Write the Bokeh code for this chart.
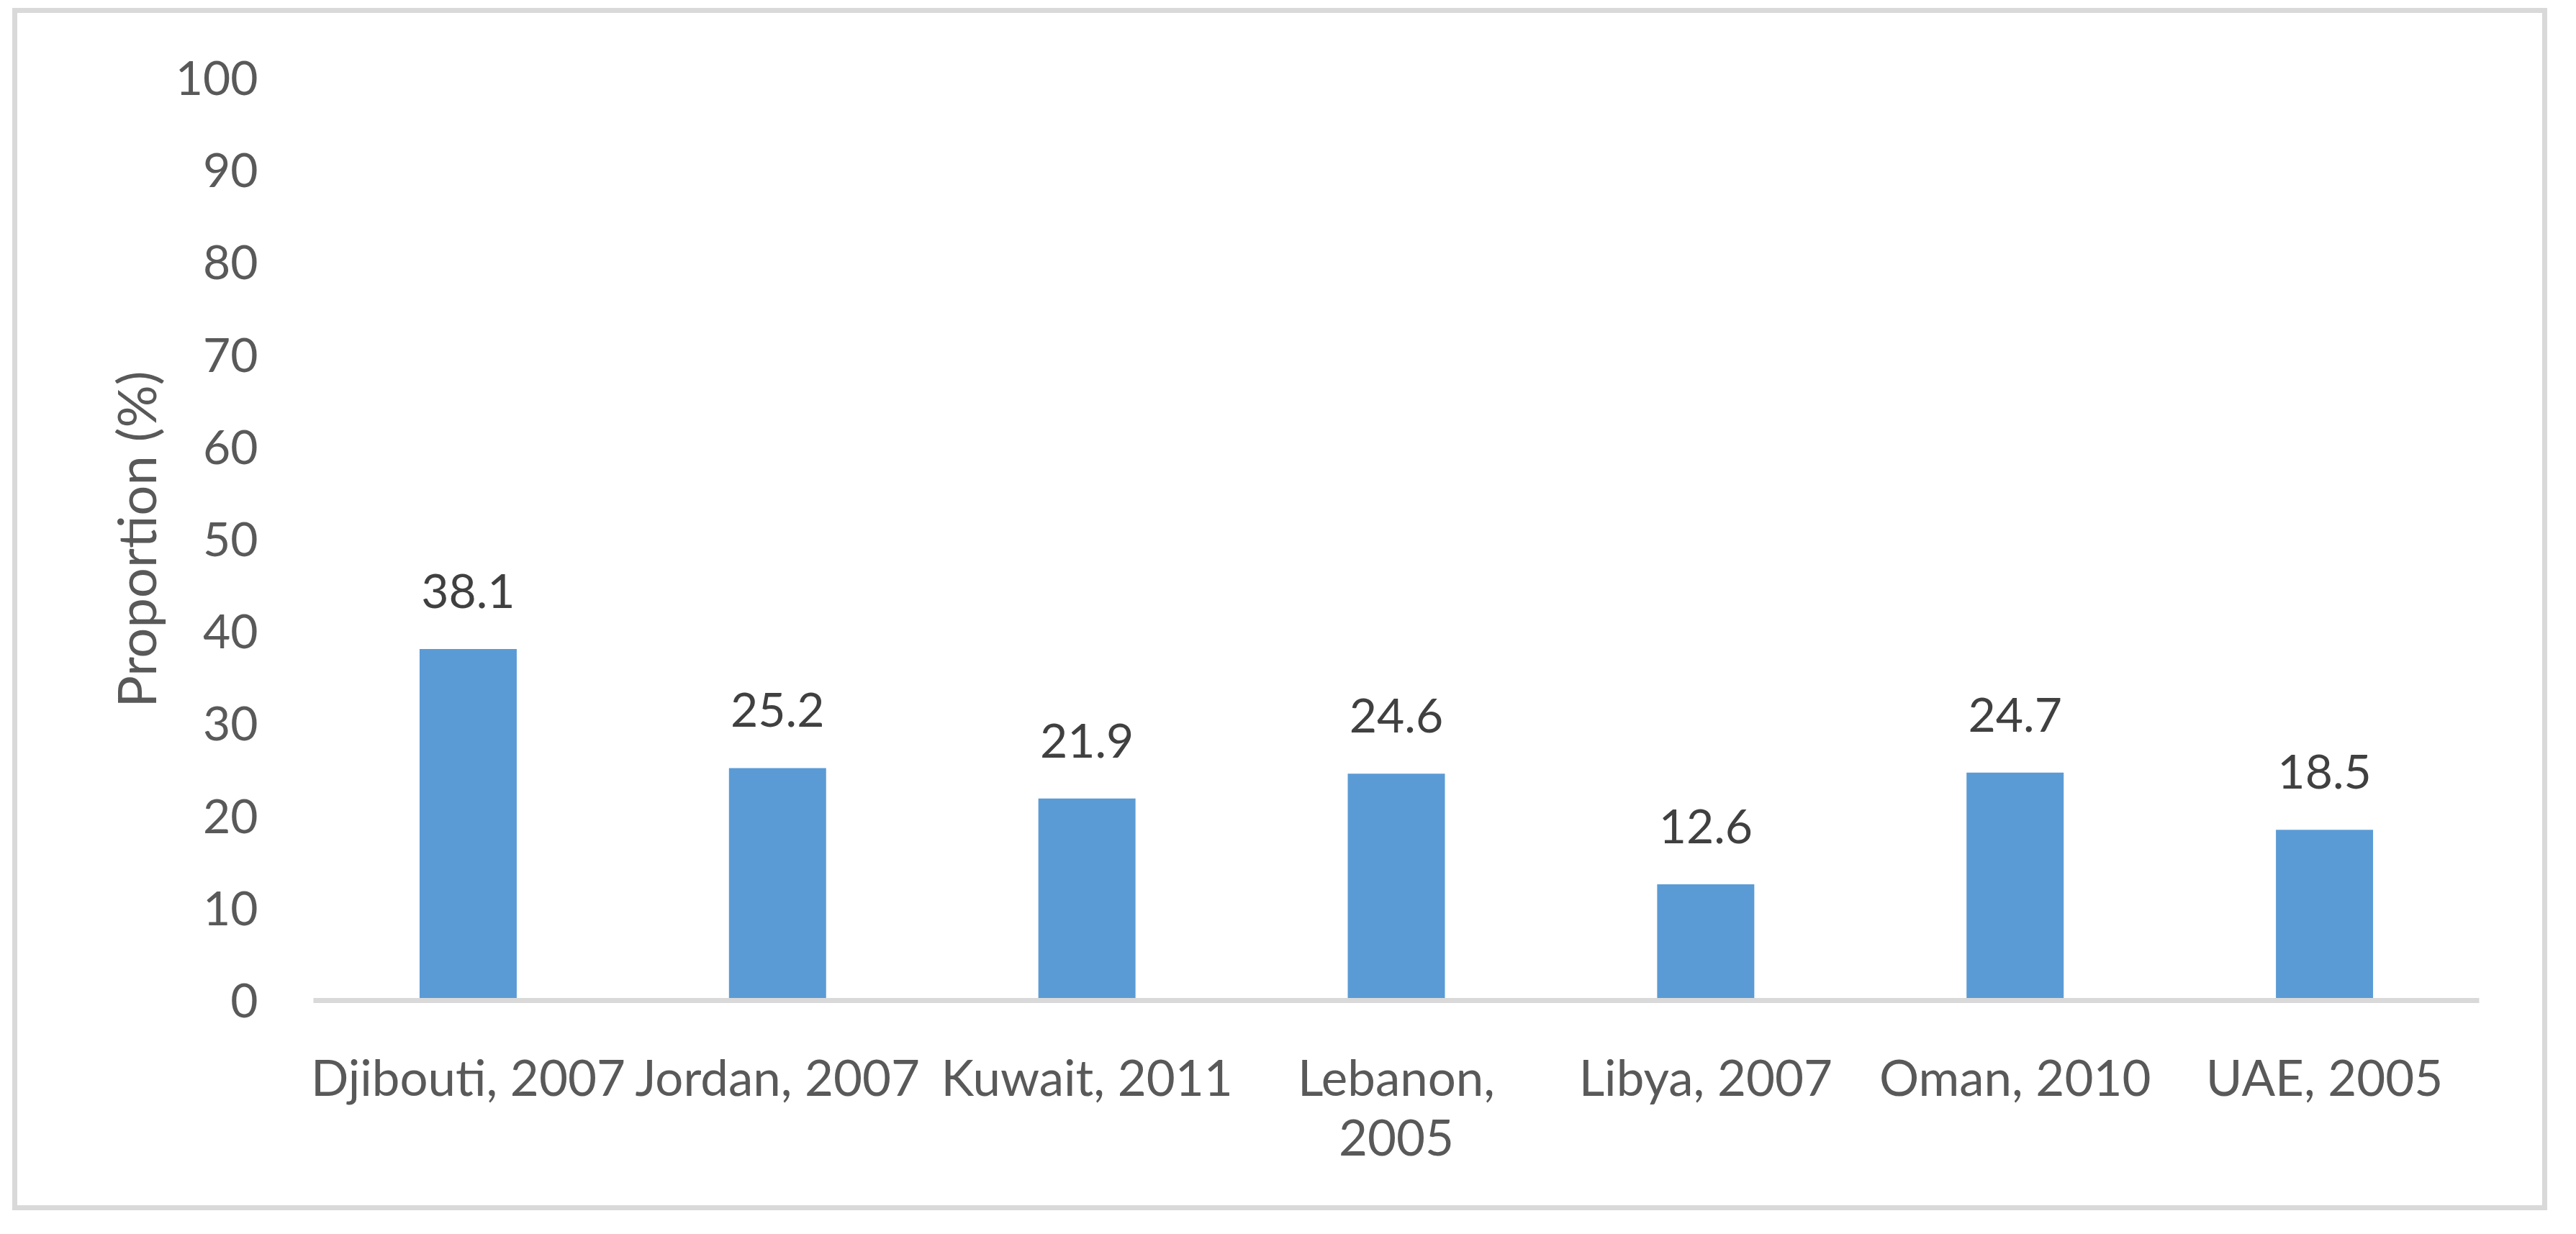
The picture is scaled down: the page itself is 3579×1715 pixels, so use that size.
from bokeh.plotting import figure
from bokeh.models import ColumnDataSource, FactorRange, Range1d, LabelSet, FixedTicker
from bokeh.core.properties import value
from bokeh.embed import file_html
from bokeh.resources import INLINE

# ---- data ----
categories = ["Djibouti, 2007", "Jordan, 2007", "Kuwait, 2011", "Lebanon,\n2005",
              "Libya, 2007", "Oman, 2010", "UAE, 2005"]
values = [38.1, 25.2, 21.9, 24.6, 12.6, 24.7, 18.5]
value_labels = ["38.1", "25.2", "21.9", "24.6", "12.6", "24.7", "18.5"]
y_ticks = [0, 10, 20, 30, 40, 50, 60, 70, 80, 90, 100]
y_title = "Proportion (%)"

FONT = "Lato"
TICK_COLOR = "#595959"
LABEL_COLOR = "#404040"
BAR_COLOR = "#5B9BD5"
GRID_GRAY = "#D9D9D9"

source = ColumnDataSource(data=dict(cat=categories, val=values, lab=value_labels))

p = figure(
    x_range=FactorRange(factors=categories, range_padding=0),
    y_range=Range1d(0, 100),
    frame_width=3009, frame_height=1282,
    min_border_left=411, min_border_right=88,
    min_border_top=90, min_border_bottom=285,
    output_backend="svg", toolbar_location=None,
    background_fill_color="white", border_fill_color="white",
)
# chart-area border (drawn outside the canvas box, like the original chart frame)
p.styles = {
    "outline": "7px solid #D9D9D9",
    "transform": "translate(24px, 18px)",
}
p.outline_line_color = None
p.xgrid.grid_line_color = None
p.ygrid.grid_line_color = None

p.vbar(x="cat", top="val", width=0.314, bottom=0, source=source,
       fill_color=BAR_COLOR, line_color=None)

labels = LabelSet(x="cat", y="val", text="lab", source=source,
                  text_align="center", text_baseline="alphabetic", y_offset=57,
                  text_font=value(FONT), text_font_size="66px", text_color=LABEL_COLOR)
p.add_layout(labels)

# x axis
xa = p.xaxis[0]
xa.axis_line_color = GRID_GRAY
xa.axis_line_width = 7
xa.major_tick_line_color = None
xa.minor_tick_line_color = None
xa.major_label_text_font = FONT
xa.major_label_text_font_size = "69px"
xa.major_label_text_color = TICK_COLOR
xa.major_label_text_line_height = 1.0
xa.major_label_standoff = 58

# y axis
ya = p.yaxis[0]
ya.ticker = FixedTicker(ticks=y_ticks)
ya.axis_line_color = None
ya.major_tick_line_color = None
ya.minor_tick_line_color = None
ya.major_label_text_font = FONT
ya.major_label_text_font_size = "66px"
ya.major_label_text_color = TICK_COLOR
ya.major_label_standoff = 71
ya.axis_label = y_title
ya.axis_label_text_font = FONT
ya.axis_label_text_font_size = "74px"
ya.axis_label_text_font_style = "normal"
ya.axis_label_text_color = TICK_COLOR
ya.axis_label_standoff = 8

open("out.html", "w").write(file_html(p, INLINE))
